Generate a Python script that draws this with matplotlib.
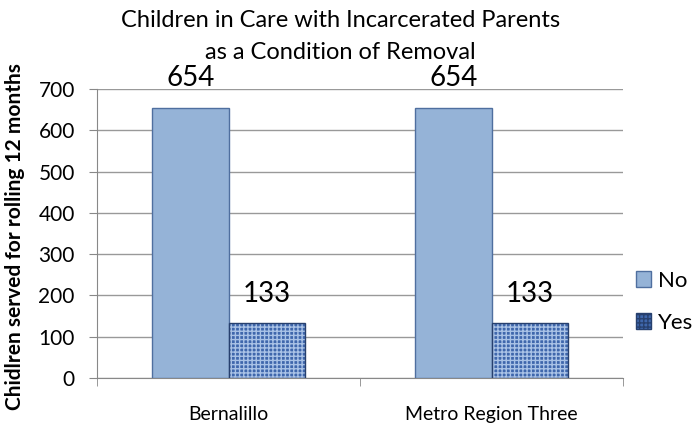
import matplotlib.pyplot as plt
import numpy as np

# chart data
regions = ["Bernalillo", "Metro Region Three"]
no_counts = [654, 654]
yes_counts = [133, 133]
y_ticks = [0, 100, 200, 300, 400, 500, 600, 700]

plt.rcParams['font.family'] = ['Lato', 'DejaVu Sans']

fig = plt.figure(figsize=(6.95, 4.34), dpi=100)
ax = fig.add_axes([97 / 695, 1 - 378 / 434, (623 - 97) / 695, (378 - 89) / 434])

x = np.arange(len(regions))
w = 0.29

# "No" bars
ax.bar(x - w / 2, no_counts, w, color="#95b3d7", edgecolor="#4f6f9f",
       linewidth=1, label="No", zorder=3)
# "Yes" bars with texture-like hatch
ax.bar(x + w / 2, yes_counts, w, color="#3f67ac", edgecolor="#a9c2e6",
       hatch="++++", linewidth=0, zorder=3)
ax.bar(x + w / 2, yes_counts, w, fill=False, edgecolor="#27406e",
       linewidth=1, zorder=4)
yes_handle = plt.Rectangle((0, 0), 1, 1, facecolor="#3f67ac", edgecolor="#27406e",
                           hatch="++++", linewidth=1)

# value labels
for i in range(len(regions)):
    ax.text(x[i] - w / 2, no_counts[i] + 42, str(no_counts[i]), ha="center",
            va="bottom", fontsize=20)
    ax.text(x[i] + w / 2, yes_counts[i] + 38, str(yes_counts[i]), ha="center",
            va="bottom", fontsize=20)

ax.set_xlim(-0.5, 1.5)
ax.set_ylim(0, 700)
ax.set_yticks(y_ticks)
ax.tick_params(axis="y", labelsize=15, length=6, color="#888888", pad=10)
ax.set_xticks(x)
ax.set_xticklabels(regions, fontsize=14)
ax.tick_params(axis="x", length=0, pad=20)
ax.set_xticks([-0.5, 0.5, 1.5], minor=True)
ax.tick_params(axis="x", which="minor", length=6, color="#888888")

ax.grid(axis="y", color="#999999", linewidth=1, zorder=0)
for s in ["top", "right"]:
    ax.spines[s].set_visible(False)
for s in ["left", "bottom"]:
    ax.spines[s].set_color("#888888")

ax.set_ylabel("Chidlren served for rolling 12 months", fontsize=15,
              fontweight="bold")
ax.yaxis.set_label_coords(-0.137, 0.49)

fig.text(0.49, 0.953, "Children in Care with Incarcerated Parents",
         ha="center", va="center", fontsize=17)
fig.text(0.49, 0.88, "as a Condition of Removal",
         ha="center", va="center", fontsize=17)

no_handle = plt.Rectangle((0, 0), 1, 1, facecolor="#95b3d7", edgecolor="#4f6f9f")
fig.legend([no_handle, yes_handle], ["No", "Yes"], loc="center left",
           bbox_to_anchor=(0.915, 0.305), frameon=False, fontsize=16,
           handlelength=0.7, handleheight=0.7, labelspacing=1.0,
           handletextpad=0.3, borderpad=0, borderaxespad=0)

fig.savefig("out.png", dpi=100)
